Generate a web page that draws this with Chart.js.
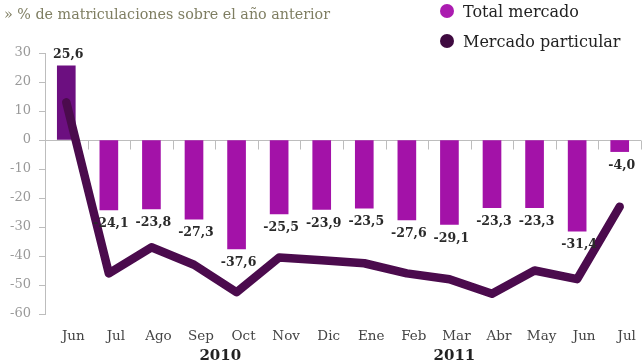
<!DOCTYPE html>
<html lang="es">
<head>
<meta charset="utf-8">
<script src="https://cdn.jsdelivr.net/npm/chart.js@4/dist/chart.umd.min.js"></script>
<style>
  body { margin: 0; background: #fff; }
  #wrap { position: relative; width: 644px; height: 362px; overflow: hidden; }
  #title {
    position: absolute; left: 4px; top: 6px;
    font: 14.3px "DejaVu Serif", serif; color: #7f7e62; white-space: nowrap;
  }
  #legend { position: absolute; left: 440px; top: 1px; font: 16px "DejaVu Serif", serif; color: #222; }
  #legend div { height: 30px; line-height: 22px; white-space: nowrap; }
  #legend span {
    display: inline-block; width: 14px; height: 14px; border-radius: 50%;
    margin-right: 9px; vertical-align: -1px;
  }
</style>
</head>
<body>
<div id="wrap">
  <canvas id="chart" width="644" height="362"></canvas>
  <div id="title">» % de matriculaciones sobre el año anterior</div>
  <div id="legend"></div>
</div>
<script>
// datos
const months = ['Jun', 'Jul', 'Ago', 'Sep', 'Oct', 'Nov', 'Dic', 'Ene', 'Feb', 'Mar', 'Abr', 'May', 'Jun', 'Jul'];
const totalMercado = [25.6, -24.1, -23.8, -27.3, -37.6, -25.5, -23.9, -23.5, -27.6, -29.1, -23.3, -23.3, -31.4, -4.0];
const mercadoParticular = [13, -46, -37, -43, -52.5, -40.5, -41.5, -42.5, -46, -48, -53, -45, -48, -23];
const yearLabels = ['2010', '2011'];
const yTicks = [30, 20, 10, 0, -10, -20, -30, -40, -50, -60];

const barColor = '#a312a8';
const lineColor = '#4b0b4d';

// leyenda
const legendEl = document.getElementById('legend');
[['Total mercado', '#ab1cb0'], ['Mercado particular', '#3f0a40']].forEach(([txt, col]) => {
    const d = document.createElement('div');
    d.innerHTML = `<span style="background:${col}"></span>${txt}`;
    legendEl.appendChild(d);
});

const fmt = v => v.toFixed(1).replace('.', ',');

const extras = {
    id: 'extras',
    beforeDatasetsDraw(chart) {
        const { ctx, chartArea, scales: { x, y } } = chart;
        const y0 = Math.round(y.getPixelForValue(0)) + 0.5;
        const half = (x.getPixelForValue(1) - x.getPixelForValue(0)) / 2;
        ctx.save();
        ctx.strokeStyle = '#bdbdbd';
        ctx.lineWidth = 1;
        ctx.beginPath();
        ctx.moveTo(chartArea.left, y0);
        ctx.lineTo(chartArea.right, y0);
        for (let i = 0; i < months.length; i++) {
            const bx = Math.round(x.getPixelForValue(i) + half) + 0.5;
            ctx.moveTo(bx, y0);
            ctx.lineTo(bx, y0 + 9);
        }
        ctx.stroke();
        ctx.restore();
    },
    afterDatasetsDraw(chart) {
        const { ctx, scales: { x, y } } = chart;
        ctx.save();
        // etiquetas de las barras
        ctx.font = 'bold 12.5px "DejaVu Serif", serif';
        ctx.fillStyle = '#2a2a2a';
        ctx.textAlign = 'center';
        ctx.textBaseline = 'middle';
        totalMercado.forEach((v, i) => {
            const px = x.getPixelForValue(i) + 2;
            const py = y.getPixelForValue(v) + (v >= 0 ? -11 : 14);
            ctx.fillText(fmt(v), px, py);
        });
        // años
        ctx.font = 'bold 15px "DejaVu Serif", serif';
        ctx.fillStyle = '#222';
        ctx.textBaseline = 'top';
        const yearPos = [3.5, 9];
        yearLabels.forEach((t, k) => {
            const a = Math.floor(yearPos[k]), b = Math.ceil(yearPos[k]);
            const px = (x.getPixelForValue(a) + x.getPixelForValue(b)) / 2 + 5;
            ctx.fillText(t, px, 349);
        });
        ctx.restore();
    }
};

new Chart(document.getElementById('chart'), {
    data: {
        labels: months,
        datasets: [{
            type: 'line',
            label: 'Mercado particular',
            data: mercadoParticular,
            borderColor: lineColor,
            borderWidth: 8.5,
            borderJoinStyle: 'round',
            borderCapStyle: 'round',
            pointRadius: 0,
            tension: 0,
            order: 0
        }, {
            type: 'bar',
            label: 'Total mercado',
            data: totalMercado,
            backgroundColor: totalMercado.map((v, i) => i === 0 ? '#6c0f80' : barColor),
            barThickness: 18,
            order: 1
        }]
    },
    options: {
        responsive: false,
        animation: false,
        layout: { padding: { top: 53, right: 3, left: 0, bottom: 0 } },
        plugins: { legend: { display: false }, tooltip: { enabled: false } },
        scales: {
            x: {
                grid: { display: false },
                border: { display: false },
                ticks: {
                    color: '#444',
                    font: { family: '"DejaVu Serif", serif', size: 13.5 },
                    padding: 6,
                    labelOffset: 7,
                    maxRotation: 0,
                    autoSkip: false
                },
                afterFit: s => { s.height = 48; }
            },
            y: {
                min: -60,
                max: 30,
                afterBuildTicks: s => { s.ticks = yTicks.map(v => ({ value: v })); },
                grid: { drawOnChartArea: false, drawTicks: true, tickLength: 6, color: '#bdbdbd' },
                border: { display: true, color: '#bdbdbd' },
                ticks: {
                    color: '#9a9a9a',
                    font: { family: '"DejaVu Serif", serif', size: 13 },
                    padding: 8
                },
                afterFit: s => { s.width = 45; }
            }
        }
    },
    plugins: [extras]
});
</script>
</body>
</html>
